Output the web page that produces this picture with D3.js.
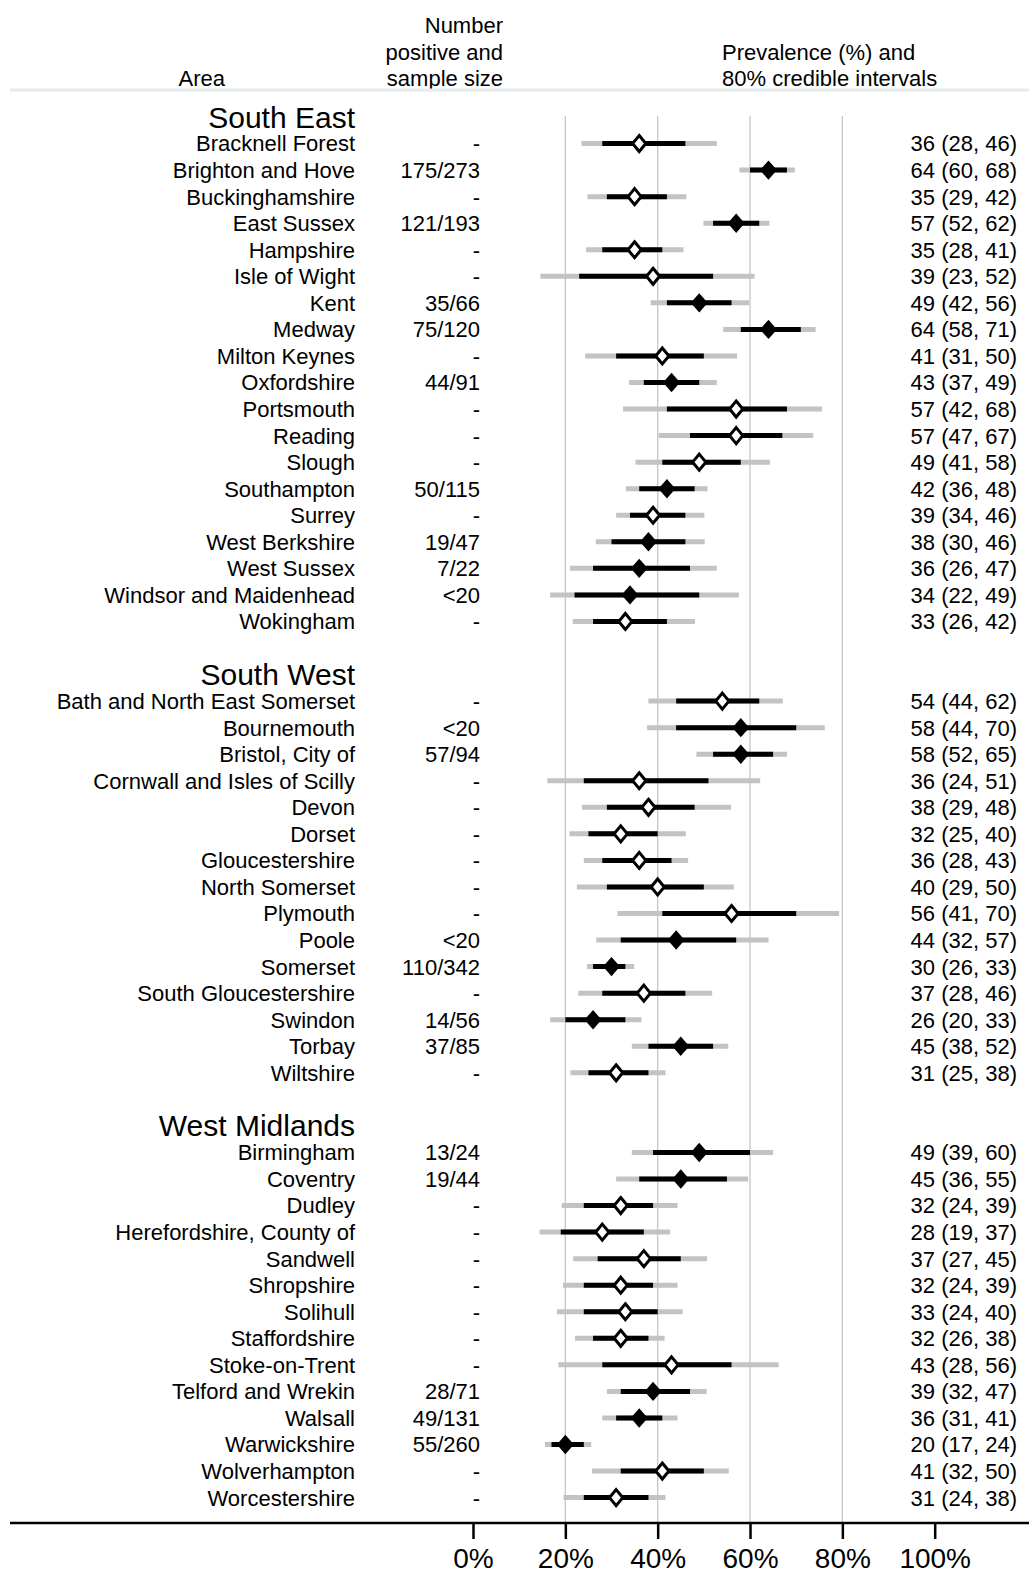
<!DOCTYPE html>
<html>
<head>
<meta charset="utf-8">
<script src="https://cdn.jsdelivr.net/npm/d3@7"></script>
<style>
  body { margin: 0; background: #fff; }
  text { font-family: "Liberation Sans", Arial, sans-serif; fill: #000; }
</style>
</head>
<body>
<div id="chart"></div>
<script>
var svgWidth = 1029;
var svgHeight = 1575;

// Data
var regions = ["South East", "South West", "West Midlands"];
var regionSizes = [19, 15, 14];

var areas = [
  "Bracknell Forest", "Brighton and Hove", "Buckinghamshire", "East Sussex", "Hampshire",
  "Isle of Wight", "Kent", "Medway", "Milton Keynes", "Oxfordshire", "Portsmouth", "Reading",
  "Slough", "Southampton", "Surrey", "West Berkshire", "West Sussex", "Windsor and Maidenhead",
  "Wokingham",
  "Bath and North East Somerset", "Bournemouth", "Bristol, City of", "Cornwall and Isles of Scilly",
  "Devon", "Dorset", "Gloucestershire", "North Somerset", "Plymouth", "Poole", "Somerset",
  "South Gloucestershire", "Swindon", "Torbay", "Wiltshire",
  "Birmingham", "Coventry", "Dudley", "Herefordshire, County of", "Sandwell", "Shropshire",
  "Solihull", "Staffordshire", "Stoke-on-Trent", "Telford and Wrekin", "Walsall", "Warwickshire",
  "Wolverhampton", "Worcestershire"
];

var samples = [
  "-", "175/273", "-", "121/193", "-", "-", "35/66", "75/120", "-", "44/91", "-", "-",
  "-", "50/115", "-", "19/47", "7/22", "<20", "-",
  "-", "<20", "57/94", "-", "-", "-", "-", "-", "-", "<20", "110/342", "-", "14/56", "37/85", "-",
  "13/24", "19/44", "-", "-", "-", "-", "-", "-", "-", "28/71", "49/131", "55/260", "-", "-"
];

var prevalence = [
  36, 64, 35, 57, 35, 39, 49, 64, 41, 43, 57, 57, 49, 42, 39, 38, 36, 34, 33,
  54, 58, 58, 36, 38, 32, 36, 40, 56, 44, 30, 37, 26, 45, 31,
  49, 45, 32, 28, 37, 32, 33, 32, 43, 39, 36, 20, 41, 31
];
var lower80 = [
  28, 60, 29, 52, 28, 23, 42, 58, 31, 37, 42, 47, 41, 36, 34, 30, 26, 22, 26,
  44, 44, 52, 24, 29, 25, 28, 29, 41, 32, 26, 28, 20, 38, 25,
  39, 36, 24, 19, 27, 24, 24, 26, 28, 32, 31, 17, 32, 24
];
var upper80 = [
  46, 68, 42, 62, 41, 52, 56, 71, 50, 49, 68, 67, 58, 48, 46, 46, 47, 49, 42,
  62, 70, 65, 51, 48, 40, 43, 50, 70, 57, 33, 46, 33, 52, 38,
  60, 55, 39, 37, 45, 39, 40, 38, 56, 47, 41, 24, 50, 38
];
// wider (grey) intervals
var lower95 = [
  23.5, 57.7, 24.8, 49.9, 24.5, 14.6, 38.5, 54.2, 24.3, 33.8, 32.5, 40.2, 35.2, 33.1, 31.0, 26.6, 21.0, 16.7, 21.6,
  38.0, 37.7, 48.4, 16.1, 23.6, 20.9, 24.0, 22.5, 31.3, 26.7, 24.7, 22.8, 16.7, 34.4, 21.1,
  34.4, 31.0, 19.2, 14.4, 21.7, 19.5, 18.2, 22.1, 18.5, 29.0, 28.0, 15.6, 25.8, 19.6
];
var upper95 = [
  52.8, 69.7, 46.2, 64.2, 45.6, 61.0, 59.8, 74.2, 57.2, 52.8, 75.6, 73.7, 64.3, 50.8, 50.1, 50.2, 52.8, 57.6, 48.1,
  67.1, 76.2, 68.0, 62.2, 55.9, 46.1, 46.6, 56.5, 79.3, 64.0, 34.9, 51.8, 36.5, 55.3, 41.7,
  65.0, 59.6, 44.3, 42.7, 50.7, 44.3, 45.4, 41.5, 66.2, 50.6, 44.3, 25.6, 55.4, 41.7
];

var xTicks = [0, 20, 40, 60, 80, 100];

// Build rows: a header row per region, then its areas, then a blank row
var headers = [];
var rows = [];
var slot = 0;
var k = 0;
regions.forEach(function(r, ri) {
  headers.push({ name: r, slot: slot });
  slot++;
  for (var j = 0; j < regionSizes[ri]; j++) {
    rows.push({
      area: areas[k],
      sample: samples[k],
      est: prevalence[k],
      lo: lower80[k],
      hi: upper80[k],
      lo95: lower95[k],
      hi95: upper95[k],
      filled: samples[k] !== "-",
      slot: slot
    });
    k++;
    slot++;
  }
  slot++;
});

var svg = d3.select("#chart")
  .append("svg")
  .attr("width", svgWidth)
  .attr("height", svgHeight);

svg.append("rect")
  .attr("width", svgWidth)
  .attr("height", svgHeight)
  .attr("fill", "#fff");

// Scales
var xScale = d3.scaleLinear()
  .domain([0, 100])
  .range([473, 934.7]);

var yScale = d3.scaleLinear()
  .domain([0, 52])
  .range([117, 117 + 52 * 26.55]);

var axisY = 1523;

// Column headings
var head = svg.append("g").attr("font-size", "22px");
head.append("text").attr("x", 225).attr("y", 86).attr("text-anchor", "end").text("Area");
head.append("text").attr("x", 503).attr("y", 33).attr("text-anchor", "end").text("Number");
head.append("text").attr("x", 503).attr("y", 60).attr("text-anchor", "end").text("positive and");
head.append("text").attr("x", 503).attr("y", 86).attr("text-anchor", "end").text("sample size");
head.append("text").attr("x", 722).attr("y", 60).text("Prevalence (%) and");
head.append("text").attr("x", 722).attr("y", 86).text("80% credible intervals");

svg.append("line")
  .attr("x1", 10).attr("x2", svgWidth)
  .attr("y1", 90).attr("y2", 90)
  .attr("stroke", "#e3ecec")
  .attr("stroke-width", 3);

// Gridlines
svg.selectAll("line.grid")
  .data(xTicks.filter(d => d > 0 && d < 100))
  .enter()
  .append("line")
  .attr("class", "grid")
  .attr("x1", d => xScale(d)).attr("x2", d => xScale(d))
  .attr("y1", 116).attr("y2", axisY)
  .attr("stroke", "#c6c6c6")
  .attr("stroke-width", 1.3);

// Region headings
svg.selectAll("text.region")
  .data(headers)
  .enter()
  .append("text")
  .attr("class", "region")
  .attr("x", 355)
  .attr("y", d => yScale(d.slot))
  .attr("dy", "0.35em")
  .attr("text-anchor", "end")
  .attr("font-size", "30px")
  .text(d => d.name);

var rowG = svg.selectAll("g.row")
  .data(rows)
  .enter()
  .append("g")
  .attr("class", "row")
  .attr("transform", d => `translate(0, ${yScale(d.slot)})`);

rowG.append("text")
  .attr("x", 355)
  .attr("dy", "0.36em")
  .attr("text-anchor", "end")
  .attr("font-size", "22px")
  .text(d => d.area);

rowG.append("text")
  .attr("x", 480)
  .attr("dy", "0.36em")
  .attr("text-anchor", "end")
  .attr("font-size", "22px")
  .text(d => d.sample);

rowG.append("text")
  .attr("x", 1017)
  .attr("dy", "0.36em")
  .attr("text-anchor", "end")
  .attr("font-size", "22px")
  .text(d => `${d.est} (${d.lo}, ${d.hi})`);

// grey wide interval
rowG.append("line")
  .attr("x1", d => xScale(d.lo95)).attr("x2", d => xScale(d.hi95))
  .attr("stroke", "#c3c3c3")
  .attr("stroke-width", 5);

// 80% interval
rowG.append("line")
  .attr("x1", d => xScale(d.lo)).attr("x2", d => xScale(d.hi))
  .attr("stroke", "#000")
  .attr("stroke-width", 5);

// diamonds: filled where there is sample data
function diamond(hw, hh) {
  return `M0,${-hh}L${hw},0L0,${hh}L${-hw},0Z`;
}
rowG.append("path")
  .attr("transform", d => `translate(${xScale(d.est)}, 0)`)
  .attr("d", d => d.filled ? diamond(8.5, 9.7) : diamond(6.6, 8))
  .attr("fill", d => d.filled ? "#000" : "#fff")
  .attr("stroke", "#000")
  .attr("stroke-width", d => d.filled ? 0 : 3)
  .attr("stroke-linejoin", "miter");

// Bottom axis
svg.append("line")
  .attr("x1", 10).attr("x2", svgWidth)
  .attr("y1", axisY).attr("y2", axisY)
  .attr("stroke", "#000")
  .attr("stroke-width", 2.5);

var bottomAxis = d3.axisBottom(xScale)
  .tickValues(xTicks)
  .tickSize(16)
  .tickPadding(9)
  .tickFormat(d => d + "%");

var axisG = svg.append("g")
  .attr("transform", `translate(0, ${axisY})`)
  .call(bottomAxis);
axisG.select(".domain").remove();
axisG.selectAll(".tick line").attr("stroke", "#000").attr("stroke-width", 2.5);
axisG.selectAll(".tick text")
  .attr("font-family", "Liberation Sans, Arial, sans-serif")
  .attr("font-size", "28px")
  .attr("fill", "#000");
</script>
</body>
</html>
